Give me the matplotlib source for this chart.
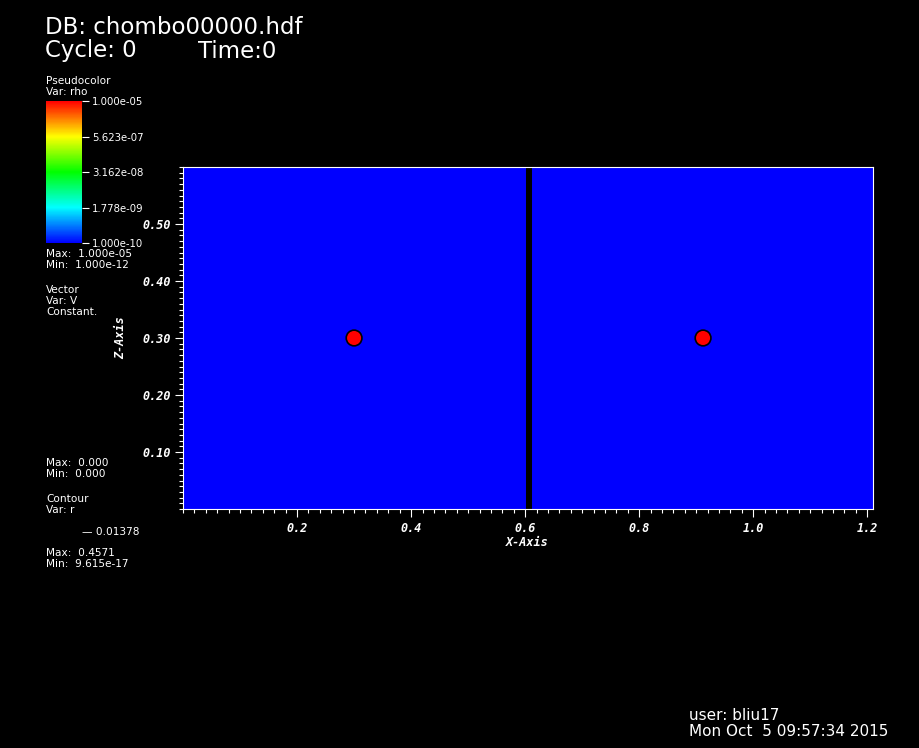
import numpy as np
import matplotlib
matplotlib.use('Agg')
import matplotlib.pyplot as plt
from matplotlib.colors import LinearSegmentedColormap, LogNorm
from matplotlib.patches import Rectangle, Circle
from matplotlib.cm import ScalarMappable
from matplotlib.ticker import FixedLocator, MultipleLocator, FuncFormatter

# Data
x_extent = [0.0, 1.21]
z_extent = [0.0, 0.6]
rho_background = 1.0e-12
rho_bubble = 1.0e-5
bubble_x = [0.30, 0.912]
bubble_z = [0.30, 0.30]
contour_r = 0.01378
gap_x = [0.602, 0.612]
rho_min, rho_max = 1.0e-10, 1.0e-5
cbar_ticks = [1.000e-05, 5.623e-07, 3.162e-08, 1.778e-09, 1.000e-10]
x_major = [0.2, 0.4, 0.6, 0.8, 1.0, 1.2]
z_major = [0.1, 0.2, 0.3, 0.4, 0.5]

W, H = 920, 748
fig = plt.figure(figsize=(W / 100, H / 100), dpi=100)
fig.patch.set_facecolor('black')


def px(x, y):
    return x / W, 1 - y / H


hot = LinearSegmentedColormap.from_list(
    'visit_hot', ['#0000ff', '#00ffff', '#00ff00', '#ffff00', '#ff0000'])
norm = LogNorm(vmin=rho_min, vmax=rho_max, clip=True)

# main axes
ax = fig.add_axes([183 / W, 1 - 509 / H, 690 / W, 342 / H])
ax.set_facecolor('black')
ax.set_xlim(x_extent)
ax.set_ylim(z_extent)
ax.add_patch(Rectangle((x_extent[0], z_extent[0]), x_extent[1] - x_extent[0],
                       z_extent[1] - z_extent[0],
                       facecolor=hot(norm(rho_background)), edgecolor='none', zorder=1))
ax.axvspan(gap_x[0], gap_x[1], color='black', lw=0, zorder=2)
for bx, bz in zip(bubble_x, bubble_z):
    ax.add_patch(Circle((bx, bz), contour_r, facecolor=hot(norm(rho_bubble)),
                        edgecolor='black', lw=1.2, zorder=3))

for s in ax.spines.values():
    s.set_color('white')
    s.set_linewidth(0.8)
    s.set_zorder(5)

ax.xaxis.set_major_locator(FixedLocator(x_major))
ax.xaxis.set_minor_locator(MultipleLocator(0.02))
ax.yaxis.set_major_locator(FixedLocator(z_major))
ax.yaxis.set_minor_locator(MultipleLocator(0.01))
ax.xaxis.set_major_formatter(FuncFormatter(lambda v, p: '%.1f' % v))
ax.yaxis.set_major_formatter(FuncFormatter(lambda v, p: '%.2f' % v))
ax.tick_params(which='major', length=6, width=0.8, colors='white', pad=3)
ax.tick_params(which='minor', length=3, width=0.8, colors='white')
tick_font = dict(family='DejaVu Sans Mono', weight='bold', style='italic', size=8.5)
for lab in ax.get_xticklabels() + ax.get_yticklabels():
    lab.set_fontproperties(matplotlib.font_manager.FontProperties(**tick_font))
    lab.set_color('white')

fig.text(*px(527, 542), 'X-Axis', color='white', ha='center', va='center', **tick_font)
fig.text(*px(121, 338), 'Z-Axis', color='white', ha='center', va='center',
         rotation=90, **tick_font)

# colorbar
cax = fig.add_axes([46 / W, 1 - 243 / H, 36 / W, 142 / H])
sm = ScalarMappable(norm=LogNorm(vmin=rho_min, vmax=rho_max), cmap=hot)
cb = fig.colorbar(sm, cax=cax)
cb.outline.set_visible(False)
cb.set_ticks(cbar_ticks)
cb.set_ticklabels(['%.3e' % t for t in cbar_ticks])
cb.minorticks_off()
cax.tick_params(length=5, width=0.8, colors='white', labelsize=7.3, pad=2)

# annotation text
big = dict(color='white', fontsize=16.5, ha='left', va='center', family='DejaVu Sans')
fig.text(*px(45, 27), 'DB: chombo00000.hdf', **big)
fig.text(*px(45, 51), 'Cycle: 0', **big)
fig.text(*px(198, 51), 'Time:0', **big)

small = dict(color='white', fontsize=7.6, ha='left', va='center', family='DejaVu Sans')
legend_lines = [
    (81, 'Pseudocolor'), (92, 'Var: rho'),
    (254, 'Max:  1.000e-05'), (265, 'Min:  1.000e-12'),
    (290, 'Vector'), (301, 'Var: V'), (312, 'Constant.'),
    (463, 'Max:  0.000'), (474, 'Min:  0.000'),
    (499, 'Contour'), (510, 'Var: r'),
    (553, 'Max:  0.4571'), (564, 'Min:  9.615e-17'),
]
for yy, txt in legend_lines:
    fig.text(*px(46, yy), txt, **small)
fig.text(*px(82, 532), '\u2014 %.5f' % contour_r, **small)

mid = dict(color='white', fontsize=11, ha='left', va='center', family='DejaVu Sans')
fig.text(*px(689, 716), 'user: bliu17', **mid)
fig.text(*px(689, 731), 'Mon Oct  5 09:57:34 2015', **mid)

fig.savefig('out.png', dpi=100, facecolor='black')
